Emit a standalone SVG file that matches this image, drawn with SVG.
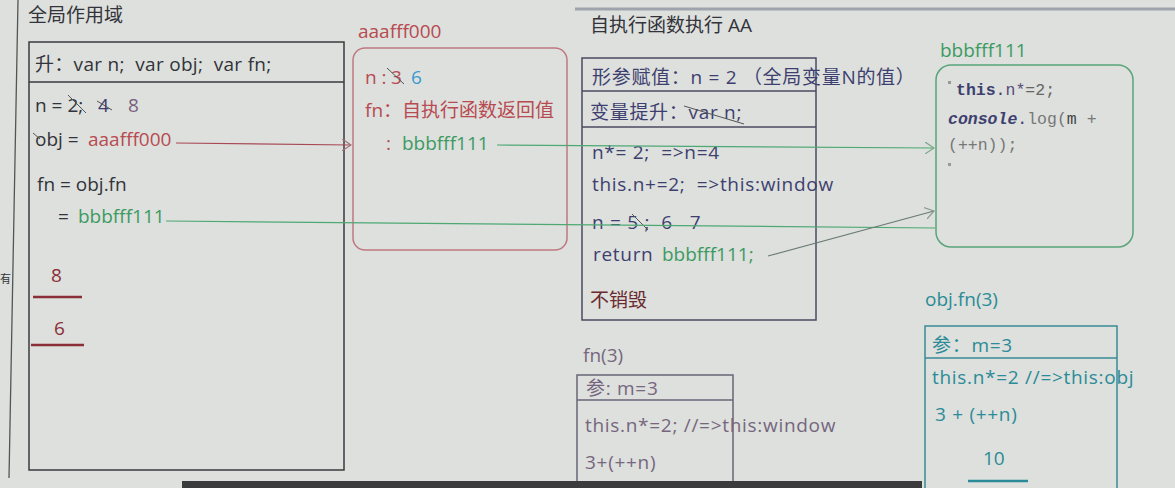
<svg xmlns="http://www.w3.org/2000/svg" width="1175" height="488" viewBox="0 0 1175 488">
<defs>
<style>
text{font-family:"Open Sans","Noto Sans CJK SC",sans-serif;font-size:19px;white-space:pre;}
.ls{letter-spacing:0.7px;}
.dk{fill:#33333b;}
.rd{fill:#b84a52;}
.gr{fill:#3d9a63;}
.bl{fill:#3a9ad0;}
.nv{fill:#3d3f70;}
.tl{fill:#2b8b98;}
.pg{fill:#76667f;}
.mono{font-family:"Liberation Mono","Noto Sans CJK SC",monospace;font-size:16.5px;}
.box{fill:none;stroke-width:1.5;}
.strike{stroke:#555;stroke-width:1;fill:none;}
</style>
<marker id="chevG" viewBox="0 0 10 12" refX="9" refY="6" markerWidth="10" markerHeight="12" markerUnits="userSpaceOnUse" orient="auto">
<path d="M0,0 L9,6 L0,12" fill="none" stroke="#7aa88a" stroke-width="1.2"/>
</marker>
<marker id="chevR" viewBox="0 0 10 12" refX="9" refY="6" markerWidth="10" markerHeight="12" markerUnits="userSpaceOnUse" orient="auto">
<path d="M0,0 L9,6 L0,12" fill="none" stroke="#a07078" stroke-width="1.2"/>
</marker>
<marker id="chevK" viewBox="0 0 10 12" refX="9" refY="6" markerWidth="10" markerHeight="12" markerUnits="userSpaceOnUse" orient="auto">
<path d="M0,0 L9,6 L0,12" fill="none" stroke="#8a9a90" stroke-width="1.2"/>
</marker>
</defs>
<rect x="0" y="0" width="1175" height="488" fill="#dde0dc"/>
<line x1="575" y1="9" x2="1175" y2="9" stroke="#9ea3ad" stroke-width="3"/>
<line x1="18" y1="0" x2="9" y2="478" stroke="#555" stroke-width="1.3"/>
<text x="0" y="283" class="dk" style="font-size:11px">有</text>

<g id="global-scope">
<text x="28" y="22" class="dk">全局作用域</text>
<rect x="29" y="42" width="315" height="428" class="box" stroke="#3a3a40"/>
<line x1="29" y1="82" x2="344" y2="82" stroke="#3a3a40" stroke-width="1.3"/>
<text x="35" y="71" class="dk" style="letter-spacing:0.3px">升：var n;  var obj;  var fn;</text>
<text x="35" y="112" class="dk">n = 2;</text>
<text x="98" y="112" class="nv">4</text>
<text x="128" y="112" fill="#7a6080">8</text>
<path d="M68,95 L86,113 M97,101 L112,110" class="strike"/>
<text x="35" y="146" class="dk">obj =</text>
<text x="88" y="146" class="rd">aaafff000</text>
<path d="M33,133 L40,139" class="strike"/>
<text x="37" y="191" class="dk">fn = obj.fn</text>
<text x="58" y="223" class="dk">=</text>
<text x="78" y="223" class="gr">bbbfff111</text>
<text x="51" y="282" fill="#8a2e38">8</text>
<line x1="33" y1="297" x2="82" y2="297" stroke="#8a2e38" stroke-width="2.5"/>
<text x="54" y="335" fill="#8a2e38">6</text>
<line x1="31" y1="345" x2="84" y2="345" stroke="#8a2e38" stroke-width="2.5"/>
</g>

<g id="obj-aaafff000">
<text x="358" y="38" class="rd">aaafff000</text>
<rect x="353" y="48" width="214" height="202" rx="12" class="box" stroke="#c07880"/>
<text x="365" y="84" class="rd">n :</text>
<text x="391" y="84" class="rd">3</text>
<text x="411" y="84" class="bl">6</text>
<path d="M387,68 L404,84" class="strike"/>
<text x="365" y="117" class="rd">fn：自执行函数返回值</text>
<text x="386" y="150" class="rd">:</text>
<text x="402" y="150" class="gr">bbbfff111</text>
</g>

<g id="exec-AA">
<text x="590" y="32" class="dk">自执行函数执行 AA</text>
<rect x="582" y="58" width="234" height="262" class="box" stroke="#4a4a60"/>
<line x1="582" y1="91" x2="816" y2="91" stroke="#4a4a60" stroke-width="1.3"/>
<line x1="582" y1="127" x2="816" y2="127" stroke="#4a4a60" stroke-width="1.3"/>
<text x="592" y="84" class="nv ls">形参赋值：n = 2 （全局变量N的值）</text>
<text x="590" y="119" class="nv ls">变量提升：var n;</text>
<path d="M684,106 L744,124" class="strike"/>
<text x="592" y="159" class="nv ls">n*= 2;  =&gt;n=4</text>
<text x="592" y="191" class="nv ls">this.n+=2;  =&gt;this:window</text>
<text x="592" y="229" class="nv ls">n = 5 ;  6   7</text>
<path d="M632,214 L648,230" class="strike"/>
<text x="593" y="261" class="nv ls">return</text>
<text x="662" y="261" class="gr">bbbfff111;</text>
<text x="590" y="307" fill="#6a2a30">不销毁</text>
</g>

<g id="fn-bbbfff111">
<text x="940" y="57" class="gr">bbbfff111</text>
<rect x="936" y="65" width="197" height="182" rx="15" class="box" stroke="#5aa47a"/>
<rect x="948" y="81" width="3" height="3" fill="#999"/>
<text x="956" y="95" class="mono"><tspan class="nv" font-weight="bold">this</tspan><tspan class="nv">.</tspan><tspan fill="#5a4a7a">n*</tspan><tspan fill="#666">=2;</tspan></text>
<text x="948" y="124" class="mono"><tspan class="nv" font-style="italic" font-weight="bold">console</tspan><tspan class="nv">.</tspan><tspan fill="#777">log(</tspan><tspan fill="#444">m</tspan><tspan fill="#777"> +</tspan></text>
<text x="948" y="150" class="mono" fill="#777">(++n));</text>
<rect x="948" y="163" width="3" height="3" fill="#999"/>
</g>

<g id="call-fn3">
<text x="583" y="362" class="pg">fn(3)</text>
<path d="M577,490 L577,375 L733,375 L733,490" class="box" stroke="#6a6478"/>
<line x1="577" y1="400" x2="733" y2="400" stroke="#6a6478" stroke-width="1.3"/>
<text x="586" y="395" class="pg ls">参: m=3</text>
<text x="585" y="432" class="pg ls">this.n*=2; //=&gt;this:window</text>
<text x="585" y="469" class="pg ls">3+(++n)</text>
</g>

<g id="call-objfn3">
<text x="925" y="306" class="tl">obj.fn(3)</text>
<path d="M925,490 L925,326 L1117,326 L1117,490" class="box" stroke="#3a8a96"/>
<line x1="925" y1="358" x2="1117" y2="358" stroke="#3a8a96" stroke-width="1.3"/>
<text x="932" y="352" class="tl ls">参：m=3</text>
<text x="932" y="384" class="tl ls">this.n*=2 //=&gt;this:obj</text>
<text x="935" y="421" class="tl ls">3 + (++n)</text>
<text x="983" y="465" class="tl">10</text>
<line x1="968" y1="481" x2="1028" y2="481" stroke="#2b8b98" stroke-width="2.5"/>
</g>

<g id="connectors" fill="none">
<line x1="176" y1="143" x2="351" y2="145" stroke="#a84a55" stroke-width="1.2" marker-end="url(#chevR)"/>
<line x1="166" y1="221" x2="935" y2="228" stroke="#4ea874" stroke-width="1.2"/>
<line x1="497" y1="145" x2="934" y2="148" stroke="#4ea874" stroke-width="1.2" marker-end="url(#chevG)"/>
<line x1="768" y1="256" x2="934" y2="211" stroke="#6a7a78" stroke-width="1.2" marker-end="url(#chevK)"/>
</g>

<rect x="182" y="481" width="740" height="7" fill="#3b3b3e"/>
</svg>
